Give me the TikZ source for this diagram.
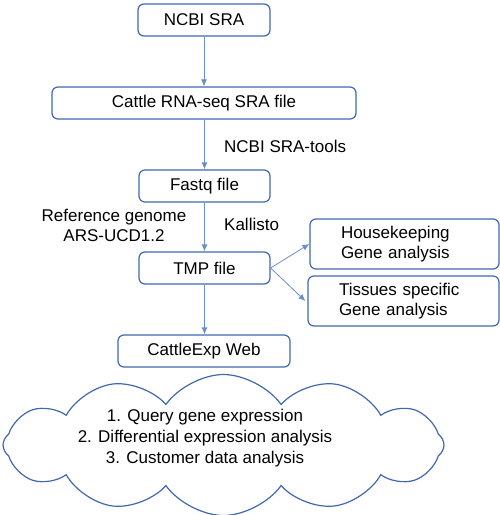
\documentclass[tikz,border=0pt]{standalone}
\usepackage{fontspec}
\setmainfont{Liberation Sans}
\usetikzlibrary{arrows.meta,shapes.symbols}
\definecolor{boxblue}{RGB}{63,104,174}
\definecolor{arrowblue}{RGB}{104,142,206}
\tikzset{
  stepbox/.style={draw=boxblue,line width=1.2pt,rounded corners=6pt,minimum height=32pt,inner sep=0pt,font=\fontsize{17}{20}\selectfont},
  sidebox/.style={stepbox,minimum height=50pt,align=left,text width=127pt,inner xsep=31pt},
  flow/.style={draw=arrowblue,line width=0.8pt,-{Latex[length=7pt,width=6pt]}},
  lbl/.style={font=\fontsize{17}{20}\selectfont,inner sep=0pt}
}
\begin{document}
\begin{tikzpicture}[x=1pt,y=-1pt]
\useasboundingbox (0,0) rectangle (500,515);
\node[stepbox,minimum width=132pt] (ncbi) at (204,20) {NCBI SRA};
\node[stepbox,minimum width=304pt] (srafile) at (204,103) {Cattle RNA-seq SRA file};
\node[stepbox,minimum width=131pt] (fastq) at (204.5,186) {Fastq file};
\node[stepbox,minimum width=131pt] (tmp) at (204.5,268) {TMP file};
\node[sidebox] (house) at (404.5,244) {Housekeeping\\Gene analysis};
\node[sidebox,text width=129pt] (tissue) at (403.5,301) {Tissues specific\\Gene analysis};
\node[stepbox,minimum width=172pt] (web) at (204,351) {CattleExp Web};
% cloud
\node[draw=boxblue,line width=1.2pt,shape=cloud,cloud puffs=12,cloud puff arc=110,minimum width=441pt,minimum height=141pt] (cloud) at (223.5,445) {};
\node[lbl,align=center,font=\fontsize{17}{21}\selectfont] (tasks) at (205,438) {1. Query gene expression\\2. Differential expression analysis\\3. Customer data analysis};
% labels
\node[lbl,anchor=west] (tools) at (224,146) {NCBI SRA-tools};
\node[lbl,anchor=west] (kallisto) at (224,224) {Kallisto};
\node[lbl,align=center] (refgen) at (114,225) {Reference genome\\ARS-UCD1.2};
% arrows
\draw[flow] (ncbi) -- (srafile);
\draw[flow] (srafile.south -| fastq) -- (fastq);
\draw[flow] (fastq) -- (tmp);
\draw[flow] (tmp.east) -- (house.west);
\draw[flow] (tmp.east) -- ([xshift=-2pt]tissue.west);
\draw[flow] (tmp) -- (web.north -| tmp);
\end{tikzpicture}
\end{document}
